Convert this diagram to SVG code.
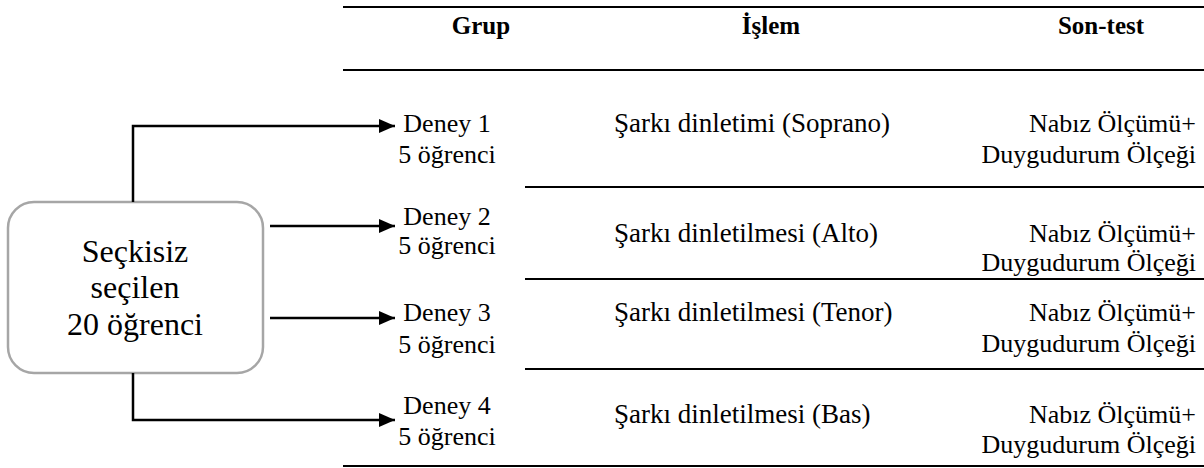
<svg xmlns="http://www.w3.org/2000/svg" width="1204" height="468" viewBox="0 0 1204 468">
<style>
text{font-family:Liberation Serif,Tinos,Times New Roman,Times,DejaVu Serif,serif;fill:#000}
.t{font-size:26px}
.p{font-size:27px}
.h{font-size:25px;font-weight:bold;text-anchor:middle}
.c{text-anchor:middle}
.r{text-anchor:end}
.big{font-size:32px;text-anchor:middle}
.rule{stroke:#000;stroke-width:2;fill:none}
.conn{stroke:#000;stroke-width:2.5;fill:none}
</style>
<defs>
<marker id="ah" markerWidth="17" markerHeight="14" refX="16" refY="7" orient="auto" markerUnits="userSpaceOnUse">
<path d="M0,0 L16,7 L0,14 Z" fill="#000"/>
</marker>
</defs>
<g id="table-rules">
<line class="rule" x1="343" y1="7" x2="1204" y2="7" stroke-width="2.5"/>
<line class="rule" x1="343" y1="70" x2="1204" y2="70" stroke-width="2.5"/>
<line class="rule" x1="525" y1="187" x2="1204" y2="187"/>
<line class="rule" x1="525" y1="279" x2="1204" y2="279"/>
<line class="rule" x1="525" y1="369" x2="1204" y2="369"/>
<line class="rule" x1="343" y1="466" x2="1204" y2="466"/>
</g>
<g id="headers">
<text class="h" x="481" y="34">Grup</text>
<text class="h" x="771" y="34">İşlem</text>
<text class="h" x="1101" y="34">Son-test</text>
</g>
<g id="source">
<rect x="8" y="202" width="255" height="171" rx="26" ry="26" fill="#fff" stroke="#a6a6a6" stroke-width="2.5"/>
<text class="big" x="135" y="262">Seçkisiz</text>
<text class="big" x="135" y="298">seçilen</text>
<text class="big" x="135" y="335">20 öğrenci</text>
</g>
<g id="connectors">
<path class="conn" d="M133,202 V126 H395" marker-end="url(#ah)"/>
<path class="conn" d="M270,226 H395" marker-end="url(#ah)"/>
<path class="conn" d="M270,318 H395" marker-end="url(#ah)"/>
<path class="conn" d="M133,373 V420 H395" marker-end="url(#ah)"/>
</g>
<g id="group1" class="t">
<text class="c" x="447" y="132">Deney 1</text>
<text class="c" x="447" y="163">5 öğrenci</text>
<text class="p" x="614" y="132">Şarkı dinletimi (Soprano)</text>
<text class="r" x="1196" y="132">Nabız Ölçümü+</text>
<text class="r" x="1196" y="163">Duygudurum Ölçeği</text>
</g>
<g id="group2" class="t">
<text class="c" x="447" y="225">Deney 2</text>
<text class="c" x="447" y="254">5 öğrenci</text>
<text class="p" x="614" y="242">Şarkı dinletilmesi (Alto)</text>
<text class="r" x="1196" y="242">Nabız Ölçümü+</text>
<text class="r" x="1196" y="271">Duygudurum Ölçeği</text>
</g>
<g id="group3" class="t">
<text class="c" x="447" y="321">Deney 3</text>
<text class="c" x="447" y="353">5 öğrenci</text>
<text class="p" x="614" y="321">Şarkı dinletilmesi (Tenor)</text>
<text class="r" x="1196" y="321">Nabız Ölçümü+</text>
<text class="r" x="1196" y="352">Duygudurum Ölçeği</text>
</g>
<g id="group4" class="t">
<text class="c" x="447" y="414">Deney 4</text>
<text class="c" x="447" y="445">5 öğrenci</text>
<text class="p" x="614" y="423">Şarkı dinletilmesi (Bas)</text>
<text class="r" x="1196" y="423">Nabız Ölçümü+</text>
<text class="r" x="1196" y="453">Duygudurum Ölçeği</text>
</g>
</svg>
